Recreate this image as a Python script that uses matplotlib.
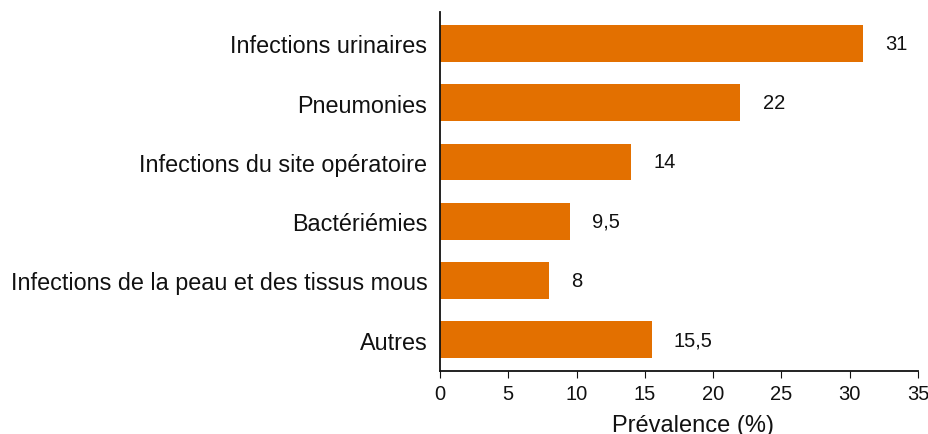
import matplotlib.pyplot as plt

plt.rcParams['font.family'] = ['Liberation Sans', 'DejaVu Sans']

categories = ["Infections urinaires", "Pneumonies", "Infections du site opératoire",
              "Bactériémies", "Infections de la peau et des tissus mous", "Autres"]
values = [31, 22, 14, 9.5, 8, 15.5]
value_labels = ["31", "22", "14", "9,5", "8", "15,5"]

fig = plt.figure(figsize=(9.29, 4.35), dpi=100)
ax = fig.add_axes([0.4736, 0.1448, 0.5145, 0.8252])

pos = list(range(len(categories)))
ax.barh(pos, values, height=0.62, color="#E37000")

for p, v, lab in zip(pos, values, value_labels):
    ax.annotate(lab, (v, p), xytext=(16, 0), textcoords="offset points",
                ha="left", va="center", fontsize=14.5, color="#111111")

ax.set_yticks(pos)
ax.set_yticklabels(categories, fontsize=16.8, color="#111111")
ax.set_ylim(5.53, -0.53)
ax.set_xlim(0, 35)
ax.set_xticks(range(0, 36, 5))
ax.tick_params(axis="x", labelsize=14.5, length=5, pad=4, colors="#111111")
ax.tick_params(axis="y", length=0, pad=9)
ax.set_xlabel("Prévalence (%)", fontsize=17, color="#111111")
ax.xaxis.set_label_coords(0.529, -0.119)

for s in ["top", "right"]:
    ax.spines[s].set_visible(False)
for s in ["left", "bottom"]:
    ax.spines[s].set_linewidth(1.3)
    ax.spines[s].set_color("#111111")

fig.savefig("out.png", dpi=100)
